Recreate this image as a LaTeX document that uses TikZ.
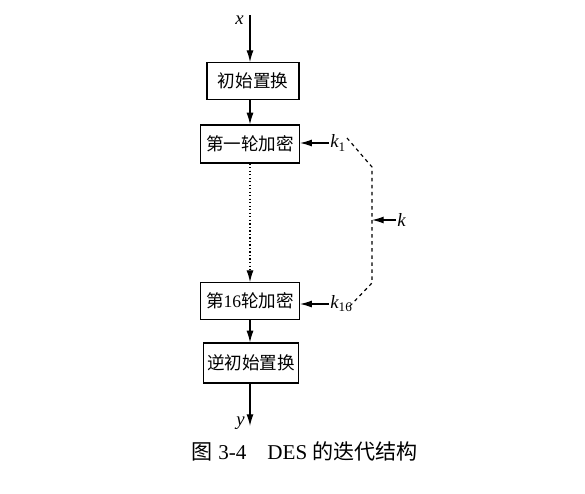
\documentclass[tikz,border=0pt]{standalone}
\usepackage{fontspec}
\setmainfont{Liberation Serif}
\newfontfamily\cjk{Noto Sans CJK SC}
\usetikzlibrary{arrows.meta}

\begin{document}
\begin{tikzpicture}[x=0.03cm,y=-0.03cm,
    box/.style={draw,line width=1pt,inner sep=0pt,minimum height=1.1cm,font=\fontsize{15}{17}\selectfont},
    arr/.style={line width=1pt,-{Latex[length=10pt,width=6pt]}},
    lbl/.style={font=\fontsize{16}{18}\selectfont\itshape,inner sep=1pt}]
    \useasboundingbox (0,0) rectangle (585,493);
    % main chain
    \node[box,minimum width=2.76cm] (ip) at (253,81) {\cjk 初始置换};
    \node[box,minimum width=2.97cm,minimum height=1.14cm] (r1) at (250,144) {\cjk 第一轮加密};
    \node[box,minimum width=2.97cm] (r16) at (250,301) {{\cjk 第}16{\cjk 轮加密}};
    \node[box,minimum width=2.85cm,minimum height=1.2cm] (fp) at (251,363) {\cjk 逆初始置换};
    \coordinate (in) at (250,15);
    \coordinate (out) at (250,426);
    \node[lbl,anchor=east] (x) at (245,20) {x};
    \node[lbl,anchor=east] (y) at (246,423) {y};
    \draw[arr] (in) -- (in |- ip.north);
    \draw[arr] (ip.south -| in) -- (r1.north -| in);
    \draw[arr,dotted] (r1.south -| in) -- (r16.north -| in);
    \draw[arr] (r16.south -| in) -- (fp.north -| in);
    \draw[arr] (fp.south -| in) -- (out);
    % subkeys
    \node[lbl,anchor=west] (k1) at (329,143) {k\textsubscript{\upshape 1}};
    \node[lbl,anchor=west] (k16) at (329,304) {k\textsubscript{\upshape 16}};
    \node[lbl,anchor=west] (k) at (396,220) {k};
    \draw[arr] (k1.west) -- (r1.east |- k1.west);
    \draw[arr] (k16.west) -- (r16.east |- k16.west);
    \coordinate (ka) at (347,138);
    \coordinate (kb) at (372,167);
    \coordinate (kc) at (372,283);
    \coordinate (kd) at (348,308);
    \draw[line width=1pt,dashed] (ka) -- (kb) -- (kc) -- (kd);
    \draw[arr] (k.west) -- (kb |- k.west);
    % caption
    \node[font=\fontsize{18}{20}\selectfont] (cap) at (305,451) {{\cjk 图} 3-4\quad DES {\cjk 的迭代结构}};
\end{tikzpicture}
\end{document}
